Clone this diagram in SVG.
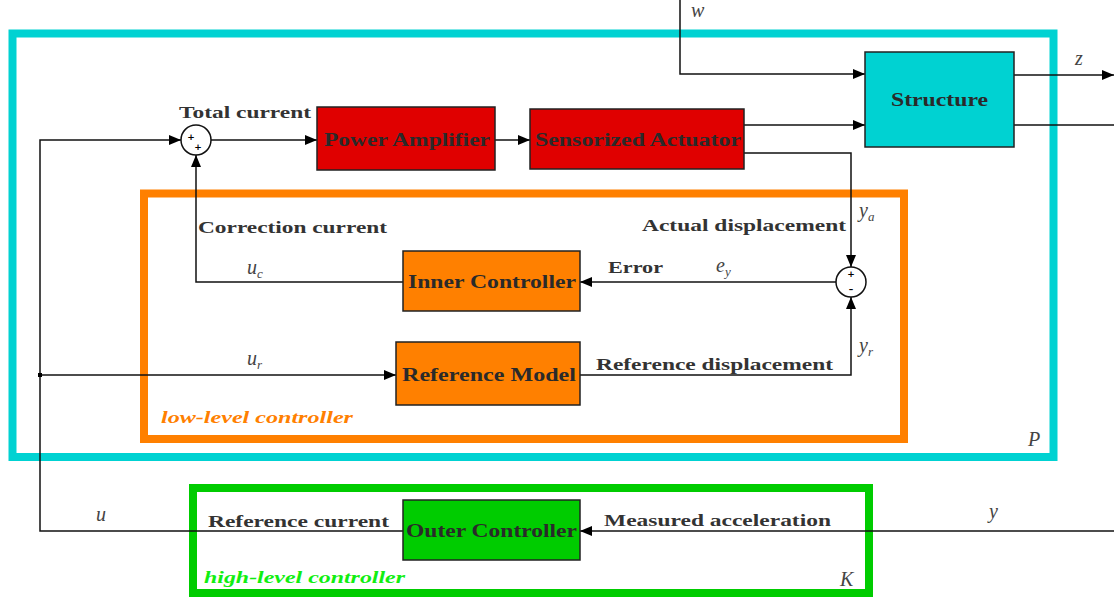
<svg xmlns="http://www.w3.org/2000/svg" width="1114" height="599" viewBox="0 0 1114 599">
<defs>
<marker id="arr" markerWidth="12" markerHeight="10" refX="12" refY="5" orient="auto" markerUnits="userSpaceOnUse">
<path d="M0,0 L12,5 L0,10 Z" fill="#000"/>
</marker>
<style>
.frame{fill:none;stroke-width:8}
.blk{stroke:#222;stroke-width:1.5}
.w{fill:none;stroke:#111;stroke-width:1.5}
.lbl{font-family:"Liberation Serif",serif;font-weight:bold;font-size:17px;fill:#333}
.nt{font-family:"Liberation Serif",serif;font-weight:bold;font-size:18px;fill:#2a2a2a;text-anchor:middle}
.m{font-family:"Liberation Serif",serif;font-style:italic;font-size:20px;fill:#444}
.sub{font-size:13px}
.sg{font-family:"DejaVu Sans",sans-serif;font-weight:bold;font-size:9px;fill:#000;text-anchor:middle}
</style>
</defs>
<rect width="1114" height="599" fill="#fff"/>

<g id="frames">
<rect class="frame" x="12.5" y="33.5" width="1041" height="423.5" stroke="#00d2d2"/>
<rect class="frame" x="144" y="193.5" width="760" height="245.5" stroke="#ff8000"/>
<rect class="frame" x="193" y="488" width="676" height="105" stroke="#00cc00"/>
<text class="lbl" x="161" y="423" fill="#ff8000" style="fill:#ff8000;font-style:italic" textLength="192" lengthAdjust="spacingAndGlyphs">low-level controller</text>
<text class="lbl" x="204" y="583" style="fill:#11ee11;font-style:italic" textLength="201" lengthAdjust="spacingAndGlyphs">high-level controller</text>
<text class="m" x="1028" y="446">P</text>
<text class="m" x="840" y="586">K</text>
</g>

<g id="connectors">
<polyline class="w" points="680,0 680,74 865,74" marker-end="url(#arr)"/>
<line class="w" x1="744" y1="125" x2="865" y2="125" marker-end="url(#arr)"/>
<line class="w" x1="1014" y1="75" x2="1114" y2="75" marker-end="url(#arr)"/>
<line class="w" x1="1014" y1="125" x2="1114" y2="125"/>
<polyline class="w" points="744,153 851,153 851,267" marker-end="url(#arr)"/>
<polyline class="w" points="580,375 851,375 851,297" marker-end="url(#arr)"/>
<line class="w" x1="836" y1="282" x2="580" y2="282" marker-end="url(#arr)"/>
<polyline class="w" points="403,282 196,282 196,155" marker-end="url(#arr)"/>
<line class="w" x1="211" y1="140" x2="317" y2="140" marker-end="url(#arr)"/>
<line class="w" x1="495" y1="140" x2="530" y2="140" marker-end="url(#arr)"/>
<polyline class="w" points="403,531 40,531 40,140 181,140" marker-end="url(#arr)"/>
<line class="w" x1="40" y1="375" x2="396" y2="375" marker-end="url(#arr)"/>
<rect x="38" y="373" width="4" height="4" fill="#000"/>
<line class="w" x1="1114" y1="531" x2="580" y2="531" marker-end="url(#arr)"/>

<text class="m" x="691" y="17">w</text>
<text class="m" x="1075" y="65">z</text>
<text class="m" x="859" y="217">y<tspan class="sub" dy="4">a</tspan></text>
<text class="m" x="859" y="352">y<tspan class="sub" dy="4">r</tspan></text>
<text class="m" x="716" y="272">e<tspan class="sub" dy="4">y</tspan></text>
<text class="m" x="247" y="274">u<tspan class="sub" dy="4">c</tspan></text>
<text class="m" x="247" y="365">u<tspan class="sub" dy="4">r</tspan></text>
<text class="m" x="96" y="521">u</text>
<text class="m" x="989" y="518">y</text>

<text class="lbl" x="179" y="118" textLength="132" lengthAdjust="spacingAndGlyphs">Total current</text>
<text class="lbl" x="198" y="233" textLength="189" lengthAdjust="spacingAndGlyphs">Correction current</text>
<text class="lbl" x="642" y="231" textLength="204" lengthAdjust="spacingAndGlyphs">Actual displacement</text>
<text class="lbl" x="608" y="273" textLength="55" lengthAdjust="spacingAndGlyphs">Error</text>
<text class="lbl" x="596" y="370" textLength="237" lengthAdjust="spacingAndGlyphs">Reference displacement</text>
<text class="lbl" x="208" y="527" textLength="181" lengthAdjust="spacingAndGlyphs">Reference current</text>
<text class="lbl" x="604" y="526" textLength="227" lengthAdjust="spacingAndGlyphs">Measured acceleration</text>
</g>

<g id="sum1">
<circle cx="196" cy="140" r="15" fill="#fff" stroke="#111" stroke-width="1.5"/>
<text class="sg" x="191" y="140">+</text>
<text class="sg" x="198" y="150">+</text>
</g>
<g id="sum2">
<circle cx="851" cy="282" r="15" fill="#fff" stroke="#111" stroke-width="1.5"/>
<text class="sg" x="851" y="277">+</text>
<text class="sg" x="851" y="292">–</text>
</g>

<g id="power-amplifier">
<rect class="blk" x="317" y="107" width="178" height="63" fill="#e00000"/>
<text class="nt" x="407" y="146" textLength="166" lengthAdjust="spacingAndGlyphs">Power Amplifier</text>
</g>
<g id="sensorized-actuator">
<rect class="blk" x="530" y="109" width="214" height="60" fill="#e00000"/>
<text class="nt" x="638" y="146" textLength="206" lengthAdjust="spacingAndGlyphs">Sensorized Actuator</text>
</g>
<g id="structure">
<rect class="blk" x="865" y="52" width="149" height="95" fill="#00d2d2"/>
<text class="nt" x="939.5" y="106" textLength="97" lengthAdjust="spacingAndGlyphs">Structure</text>
</g>
<g id="inner-controller">
<rect class="blk" x="403" y="251" width="177" height="60" fill="#ff8000"/>
<text class="nt" x="492" y="288" textLength="168" lengthAdjust="spacingAndGlyphs">Inner Controller</text>
</g>
<g id="reference-model">
<rect class="blk" x="396" y="342" width="184" height="63" fill="#ff8000"/>
<text class="nt" x="489" y="381" textLength="174" lengthAdjust="spacingAndGlyphs">Reference Model</text>
</g>
<g id="outer-controller">
<rect class="blk" x="403" y="500" width="177" height="60" fill="#00cc00"/>
<text class="nt" x="491.5" y="537" textLength="171" lengthAdjust="spacingAndGlyphs">Outer Controller</text>
</g>
</svg>
